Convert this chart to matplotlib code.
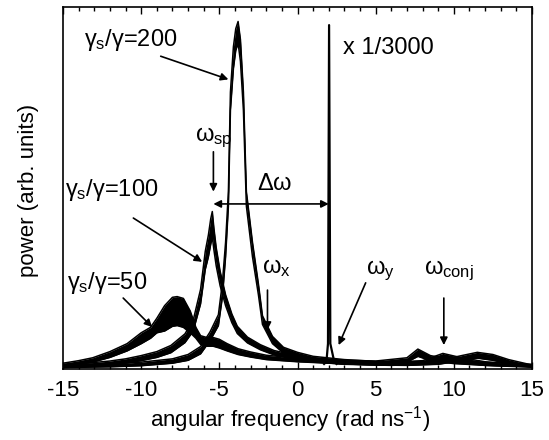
import numpy as np
import matplotlib
matplotlib.use('Agg')
import matplotlib.pyplot as plt
from matplotlib.ticker import MultipleLocator

plt.rcParams['font.family'] = ['Liberation Sans', 'DejaVu Sans']
plt.rcParams['mathtext.fontset'] = 'custom'
plt.rcParams['mathtext.rm'] = 'Liberation Sans'
plt.rcParams['mathtext.it'] = 'Liberation Sans'
plt.rcParams['axes.unicode_minus'] = False

# spectra: frequency, mean level, half-width of the noise band
x200 = [-15, -12, -10, -8, -7, -6.2, -5.6, -5.06, -4.8, -4.6, -4.42, -4.29, -4.1, -3.95, -3.8,
        -3.65, -3.46, -3.27, -2.88, -2.5, -2.24, -1.6, -0.9, 0, 1, 3, 5, 7, 9, 10.5, 11.5, 12.5,
        13.5, 14.5, 15]
p200 = [.008, .01, .014, .022, .032, .052, .09, .135, .22, .33, .47, .74, .86, .91, .93,
        .88, .74, .47, .33, .22, .135, .08, .052, .038, .028, .02, .016, .015, .018, .03, .038, .032,
        .02, .012, .008]
n200 = [.004, .004, .005, .006, .008, .01, .012, .015, .02, .02, .02, .025, .03, .03, .03,
        .03, .025, .02, .02, .015, .012, .01, .008, .008, .007, .006, .005, .005, .005, .007, .008, .008,
        .006, .004, .003]

x100 = [-15, -13, -12, -11, -10, -9, -8.1, -7.2, -6.67, -6.2, -5.9, -5.7, -5.55, -5.45, -5.35,
        -5.2, -4.95, -4.6, -4.2, -3.85, -3.2, -2.37, -1.5, -0.25, 1, 3, 6, 8, 9.3, 10.5, 12, 15]
p100 = [.008, .013, .017, .022, .03, .04, .055, .085, .12, .2, .3, .34, .38, .4, .36,
        .31, .25, .19, .14, .108, .08, .06, .045, .033, .025, .018, .014, .018, .035, .025, .015, .008]
n100 = [.004, .005, .005, .006, .007, .008, .01, .012, .015, .02, .025, .03, .035, .035, .03,
        .025, .02, .015, .012, .01, .008, .007, .006, .006, .005, .005, .004, .005, .008, .006, .005, .003]

x50 = [-15, -14, -13.1, -12, -10.9, -10, -9.4, -9, -8.5, -8, -7.7, -7.3, -6.86, -6.5, -6.2,
       -5.8, -5.4, -5.0, -4.5, -3.8, -3, -2, 0, 2.5, 5, 7, 7.7, 8.5, 10, 12, 15]
p50 = [.012, .018, .025, .04, .06, .085, .1, .12, .14, .158, .16, .155, .13, .1, .08,
       .075, .075, .07, .06, .048, .04, .032, .025, .02, .018, .025, .045, .03, .02, .014, .01]
n50 = [.004, .005, .006, .008, .01, .015, .015, .02, .035, .04, .04, .04, .03, .015, .012,
       .012, .012, .012, .01, .008, .007, .006, .005, .005, .004, .006, .01, .007, .005, .004, .003]

# pump line, shown x 1/3000
xpump = [1.7, 1.85, 1.95, 2.02, 2.1, 2.35, 2.5]
ppump = [.014, .02, .07, .95, .07, .02, .014]

fig = plt.figure(figsize=(5.49, 4.4), dpi=100)
ax = fig.add_axes([63/549, 1-369/440, 469/549, 362/440])

for xs, ps, ns in [(x50, p50, n50), (x100, p100, n100), (x200, p200, n200)]:
    xs, ps, ns = np.array(xs), np.array(ps), np.array(ns)
    ax.fill_between(xs, ps - ns, ps + ns, color='black', lw=0)
    ax.plot(xs, ps + ns, color='black', lw=1.1)
    ax.plot(xs, ps - ns, color='black', lw=1.1)
ax.plot(xpump, ppump, color='black', lw=1.6)

ax.set_xlim(-15, 15)
ax.set_ylim(0, 1)
ax.set_yticks([])
ax.xaxis.set_major_locator(MultipleLocator(5))
ax.xaxis.set_minor_locator(MultipleLocator(1))
ax.tick_params(axis='x', which='both', direction='in', top=True, bottom=True, labelsize=16, pad=8)
ax.tick_params(axis='x', which='major', length=5, width=1)
ax.tick_params(axis='x', which='minor', length=3, width=1)
for s in ax.spines.values():
    s.set_linewidth(1.2)

fig.text(290/549, 1-426/440, 'angular frequency (rad ns$^{-1}$)', ha='center', va='baseline', fontsize=16)
fig.text(29/549, 1-190/440, 'power (arb. units)', rotation=90, ha='center', va='center', fontsize=16)

fs = 17
arw = dict(arrowstyle='-|>', color='black', lw=1.2, mutation_scale=11, shrinkA=0, shrinkB=0)
ax.text(-13.65, .91, r'$\gamma_{s}$/$\gamma$=200', fontsize=fs, va='center')
ax.annotate('', xy=(-4.42, .80), xytext=(-8.75, .864), arrowprops=arw)
ax.text(-14.87, .495, r'$\gamma_{s}$/$\gamma$=100', fontsize=fs, va='center')
ax.annotate('', xy=(-6.1, .296), xytext=(-10.5, .417), arrowprops=arw)
ax.text(-14.75, .238, r'$\gamma_{s}$/$\gamma$=50', fontsize=fs, va='center')
ax.annotate('', xy=(-9.3, .116), xytext=(-11.15, .196), arrowprops=arw)

ax.text(-6.54, .64, r'$\omega_{sp}$', fontsize=fs, va='center')
ax.annotate('', xy=(-5.38, .49), xytext=(-5.38, .60), arrowprops=arw)
ax.text(-2.56, .51, r'$\Delta\omega$', fontsize=fs, va='center')
ax.annotate('', xy=(-5.38, .456), xytext=(2.0, .456),
            arrowprops=dict(arrowstyle='<|-|>', color='black', lw=1.2, mutation_scale=11, shrinkA=0, shrinkB=0))
ax.text(-2.24, .28, r'$\omega_{x}$', fontsize=fs, va='center')
ax.annotate('', xy=(-1.92, .108), xytext=(-1.92, .218), arrowprops=arw)
ax.text(4.36, .27, r'$\omega_{y}$', fontsize=fs, va='center')
ax.annotate('', xy=(2.63, .066), xytext=(4.36, .238), arrowprops=arw)
ax.text(8.08, .27, r'$\omega_{conj}$', fontsize=fs, va='center')
ax.annotate('', xy=(9.36, .066), xytext=(9.36, .196), arrowprops=arw)
ax.text(2.88, .887, 'x 1/3000', fontsize=17, va='center')

fig.savefig('out.png', dpi=100)
